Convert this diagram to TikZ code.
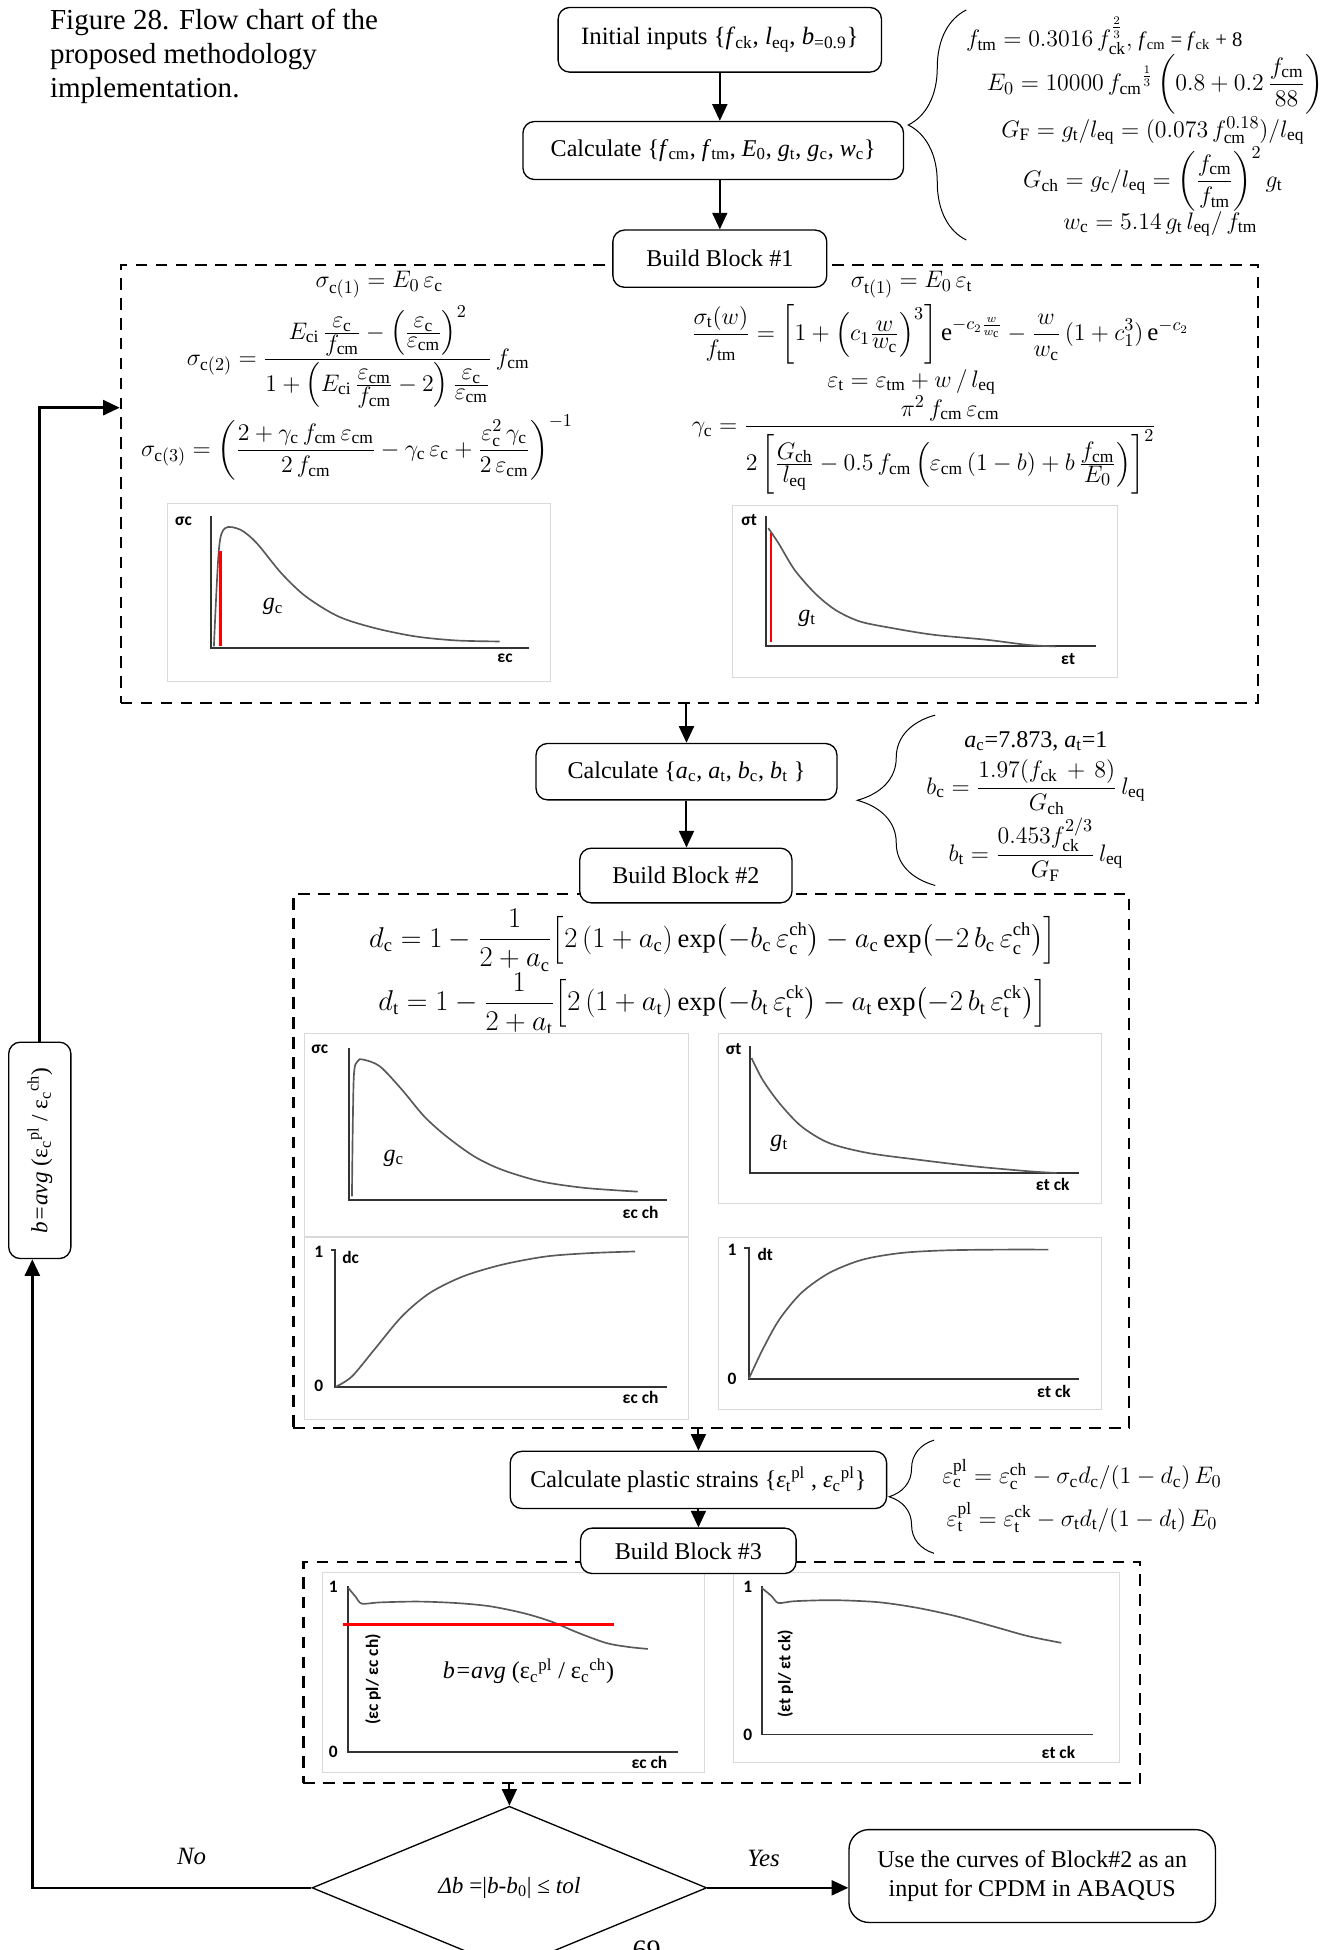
\documentclass[tikz,border=0pt]{standalone}
\usepackage{amsmath,amssymb}
\usepackage{fontspec}
\setmainfont{Liberation Serif}
\newfontfamily\chartfont{Carlito}
\usetikzlibrary{arrows.meta,positioning,shapes.geometric,decorations.pathreplacing,calc}

\newcommand{\tightfrac}[2]{\genfrac{}{}{}{1}{\textstyle #1}{\textstyle #2}}

\tikzset{
  flowbox/.style={draw, rounded corners=7pt, line width=0.8pt, fill=white, align=center,
    font=\fontsize{14.5}{17}\selectfont, inner sep=2pt},
  frameblock/.style={draw, line width=1.3pt, dash pattern=on 7pt off 5pt, inner sep=0pt},
  arr/.style={line width=1.2pt, -{Triangle[length=10pt,width=9pt]}},
  looparr/.style={line width=1.6pt, -{Triangle[length=10pt,width=9pt]}},
  eqn/.style={font=\fontsize{15}{18}\selectfont, inner sep=0pt},
  txt/.style={font=\fontsize{14.5}{17}\selectfont, inner sep=0pt},
  chartbox/.style={draw=gray!30, line width=0.6pt, fill=white},
  axis/.style={line width=1.2pt, black!80},
  curve/.style={line width=1pt, black!65, smooth},
  redmark/.style={line width=1.6pt, red},
  axlabel/.style={font=\chartfont\bfseries\fontsize{10.5}{12}\selectfont, inner sep=0pt},
  bracestyle/.style={decorate, decoration={brace, amplitude=#1}, line width=0.6pt}
}

\begin{document}
\begin{tikzpicture}[x=0.75pt, y=-0.75pt]
  \useasboundingbox (0,0) rectangle (1078,1568);

  \node[font=\fontsize{17.5}{20.5}\selectfont, align=left, anchor=north west, inner sep=0pt] (caption) at (40,7)
    {Figure 28. Flow chart of the\\proposed methodology\\implementation.};

  % dashed blocks
  \node[frameblock, minimum width=686pt, minimum height=264pt] (frameA) at (554.5,389) {};
  \node[frameblock, minimum width=504pt, minimum height=321.75pt] (frameB) at (572,933.5) {};
  \node[frameblock, minimum width=504.75pt, minimum height=133.5pt] (frameC) at (580.5,1345) {};

  \node[flowbox, minimum width=195pt, minimum height=39pt, font=\fontsize{15}{17}\selectfont] (inputs) at (578.8,32)
    {Initial inputs \{\textit{f}\textsubscript{ck}, \textit{l}\textsubscript{eq}, \textit{b}\textsubscript{=0.9}\}};
  \node[flowbox, minimum width=229.5pt, minimum height=35pt] (calcA) at (573.5,121)
    {Calculate \{\textit{f}\textsubscript{cm}, \textit{f}\textsubscript{tm}, \textit{E}\textsubscript{0}, \textit{g}\textsubscript{t}, \textit{g}\textsubscript{c}, \textit{w}\textsubscript{c}\}};
  \node[flowbox, minimum width=129pt, minimum height=34.5pt] (blockA) at (578.8,208) {Build Block \#1};

  \draw[bracestyle=35pt] (777,193) -- (777,8);
  \node[eqn] (ftm) at (888,29) {$f_{\mathrm{tm}} = 0.3016\,f_{\mathrm{ck}}^{\frac{2}{3}},$ {\fontsize{12.5}{14}\selectfont\textit{f}\textsubscript{cm} = \textit{f}\textsubscript{ck} + 8}};
  \node[eqn] (ezero) at (929,68) {$\displaystyle E_0 = 10000\,{f_{\mathrm{cm}}}^{\frac{1}{3}}\left(0.8+0.2\,\frac{f_{\mathrm{cm}}}{88}\right)$};
  \node[eqn] (gf) at (927,105) {$G_{\mathrm F} = g_{\mathrm t}/l_{\mathrm{eq}} = (0.073\,f_{\mathrm{cm}}^{0.18})/l_{\mathrm{eq}}$};
  \node[eqn] (gch) at (927,144) {$\displaystyle G_{\mathrm{ch}} = g_{\mathrm c}/l_{\mathrm{eq}} = \left(\frac{f_{\mathrm{cm}}}{f_{\mathrm{tm}}}\right)^{2} g_{\mathrm t}$};
  \node[eqn] (wc) at (933,180) {$w_{\mathrm c} = 5.14\,g_{\mathrm t}\,l_{\mathrm{eq}}/\,f_{\mathrm{tm}}$};

  % block 1
  \node[eqn] (sigcA) at (305,229) {$\sigma_{\mathrm{c}(1)} = E_0\,\varepsilon_{\mathrm c}$};
  \node[eqn] (sigcB) at (288,287) {$\displaystyle \sigma_{\mathrm{c}(2)} = \frac{E_{\mathrm{ci}}\,\tightfrac{\varepsilon_{\mathrm c}}{f_{\mathrm{cm}}}-\left(\tightfrac{\varepsilon_{\mathrm c}}{\varepsilon_{\mathrm{cm}}}\right)^{2}}{1+\left(E_{\mathrm{ci}}\,\tightfrac{\varepsilon_{\mathrm{cm}}}{f_{\mathrm{cm}}}-2\right)\tightfrac{\varepsilon_{\mathrm c}}{\varepsilon_{\mathrm{cm}}}}\,f_{\mathrm{cm}}$};
  \node[eqn] (sigcC) at (287,360) {$\displaystyle \sigma_{\mathrm{c}(3)} = \left(\frac{2+\gamma_{\mathrm c}\,f_{\mathrm{cm}}\,\varepsilon_{\mathrm{cm}}}{2\,f_{\mathrm{cm}}}-\gamma_{\mathrm c}\,\varepsilon_{\mathrm c}+\frac{\varepsilon_{\mathrm c}^{2}\,\gamma_{\mathrm c}}{2\,\varepsilon_{\mathrm{cm}}}\right)^{-1}$};
  \node[eqn] (sigtA) at (733,229) {$\sigma_{\mathrm{t}(1)} = E_0\,\varepsilon_{\mathrm t}$};
  \node[eqn] (sigtw) at (756,269) {$\displaystyle \frac{\sigma_{\mathrm t}(w)}{f_{\mathrm{tm}}} = \left[1+\left(c_1\tightfrac{w}{w_{\mathrm c}}\right)^{3}\right]\mathrm{e}^{-c_2\frac{w}{w_{\mathrm c}}} - \frac{w}{w_{\mathrm c}}\,(1+c_1^{3})\,\mathrm{e}^{-c_2}$};
  \node[eqn] (epst) at (733,307) {$\varepsilon_{\mathrm t} = \varepsilon_{\mathrm{tm}} + w\,/\,l_{\mathrm{eq}}$};
  \node[eqn] (gammac) at (743,358) {$\displaystyle \gamma_{\mathrm c} = \frac{\pi^{2}\,f_{\mathrm{cm}}\,\varepsilon_{\mathrm{cm}}}{2\left[\tightfrac{G_{\mathrm{ch}}}{l_{\mathrm{eq}}}-0.5\,f_{\mathrm{cm}}\left(\varepsilon_{\mathrm{cm}}\,(1-b)+b\,\tightfrac{f_{\mathrm{cm}}}{E_0}\right)\right]^{2}}$};

  \draw[chartbox] (135,405) rectangle (443,548);
  \draw[axis] (170,415) -- (170,521) -- (425,521);
  \draw[curve] plot coordinates {(172,519.8) (176,442) (181,424.7) (193.4,426) (206.5,436.8) (226.2,460.9) (245.9,479.6) (272.1,495.7) (301.6,505.1) (334.4,511.8) (367.2,515) (401.7,515.8)};
  \draw[redmark] (177.4,443.4) -- (177.4,519.8);
  \node[axlabel] (sigcAx) at (147.5,419.4) {σc};
  \node[axlabel] (epscAx) at (406,529) {εc};
  \node[txt] (gcA) at (219.5,487.7) {\textit{g}\textsubscript{c}};

  \draw[chartbox] (589.3,406.8) rectangle (898.2,545);
  \draw[axis] (616.2,415.3) -- (616.2,519.8) -- (881.2,519.8);
  \draw[curve] plot coordinates {(617.8,424.7) (626,436.8) (638.9,458.2) (655.3,477) (671.7,490.4) (691.4,499.7) (717.7,505.1) (750.5,510.4) (793.1,514.4) (825.9,518.5) (848.8,519.8)};
  \draw[redmark] (620,428.7) -- (620,516.6);
  \node[axlabel] (sigtAx) at (602.3,418.5) {σt};
  \node[axlabel] (epstAx) at (858.8,530) {εt};
  \node[txt] (gtA) at (649,497) {\textit{g}\textsubscript{t}};

  \node[flowbox, minimum width=181.5pt, minimum height=34pt] (calcB) at (552,620.5)
    {Calculate \{\textit{a}\textsubscript{c}, \textit{a}\textsubscript{t}, \textit{b}\textsubscript{c}, \textit{b}\textsubscript{t} \}};
  \node[flowbox, minimum width=128pt, minimum height=33pt] (blockB) at (551.5,704) {Build Block \#2};

  \draw[bracestyle=47pt] (752,712) -- (752,575);
  \node[txt] (acat) at (833,596) {\textit{a}\textsubscript{c}=7.873, \textit{a}\textsubscript{t}=1};
  \node[eqn] (bc) at (833,633) {$\displaystyle b_{\mathrm c} = \frac{1.97(f_{\mathrm{ck}}\,+\,8)}{G_{\mathrm{ch}}}\,l_{\mathrm{eq}}$};
  \node[eqn] (bt) at (833,683) {$\displaystyle b_{\mathrm t} = \frac{0.453 f_{\mathrm{ck}}^{2/3}}{G_{\mathrm F}}\,l_{\mathrm{eq}}$};

  % block 2
  \node[eqn, font=\fontsize{16}{18}\selectfont] (dc) at (573,756) {$\displaystyle d_{\mathrm c} = 1-\frac{1}{2+a_{\mathrm c}}\Bigl[2\,(1+a_{\mathrm c})\exp\bigl(-b_{\mathrm c}\,\varepsilon_{\mathrm c}^{\mathrm{ch}}\bigr)-a_{\mathrm c}\exp\bigl(-2\,b_{\mathrm c}\,\varepsilon_{\mathrm c}^{\mathrm{ch}}\bigr)\Bigr]$};
  \node[eqn, font=\fontsize{16}{18}\selectfont] (dt) at (573,807) {$\displaystyle d_{\mathrm t} = 1-\frac{1}{2+a_{\mathrm t}}\Bigl[2\,(1+a_{\mathrm t})\exp\bigl(-b_{\mathrm t}\,\varepsilon_{\mathrm t}^{\mathrm{ck}}\bigr)-a_{\mathrm t}\exp\bigl(-2\,b_{\mathrm t}\,\varepsilon_{\mathrm t}^{\mathrm{ck}}\bigr)\Bigr]$};

  \draw[chartbox] (245.2,831.2) rectangle (553.9,994.1);
  \draw[axis] (280.9,842.7) -- (280.9,965.2) -- (536,965.2);
  \draw[curve] plot coordinates {(283,962) (284.4,868) (287.5,853.4) (292,852) (305.4,857.4) (323.2,876.2) (341,897.6) (358.9,913.7) (381.2,929.8) (403.4,940.5) (434.6,949.9) (470.3,955.2) (512.8,958.2)};
  \node[axlabel] (sigcBx) at (257.2,844) {σc};
  \node[axlabel] (epscBx) at (515.1,975.3) {εc ch};
  \node[txt] (gcB) at (316.6,931.1) {\textit{g}\textsubscript{c}};

  \draw[chartbox] (577.5,831) rectangle (885.4,967.8);
  \draw[axis] (603.4,841.4) -- (603.4,943.2) -- (867.5,943.2);
  \draw[curve] plot coordinates {(604.3,850.8) (613.2,868.2) (626.6,886.9) (644.4,905.7) (666.7,919.1) (697.9,927.1) (738.1,932.5) (782.7,937.8) (827.3,941.8) (849.6,943.2)};
  \node[axlabel] (sigtBx) at (590,843.6) {σt};
  \node[axlabel] (epstBx) at (846.5,952.6) {εt ck};
  \node[txt] (gtB) at (626.6,919) {\textit{g}\textsubscript{t}};

  \draw[chartbox] (245.2,994.7) rectangle (553.9,1141.5);
  \draw[axis] (266,1005) -- (269.7,1005) -- (269.7,1115.3) -- (536,1115.3);
  \draw[curve] plot coordinates {(269.7,1115.3) (283,1106.8) (300.9,1085.3) (323.2,1058.5) (345.4,1039.8) (372.2,1026.4) (403.4,1017) (439.1,1010.3) (474.8,1007.6) (510.6,1006.3)};
  \node[axlabel] (oneC) at (256.3,1006.2) {1};
  \node[axlabel] (zeroC) at (256.3,1114.7) {0};
  \node[axlabel] (dcAx) at (282,1011.5) {dc};
  \node[axlabel] (epscCx) at (515.1,1124) {εc ch};

  \draw[chartbox] (577.5,994.7) rectangle (885.4,1133.4);
  \draw[axis] (598.5,1003.5) -- (602.1,1003.5) -- (602.1,1108.7) -- (867.5,1108.7);
  \draw[curve] plot coordinates {(602.1,1108.7) (613.2,1085.2) (626.6,1061.1) (644.4,1039.6) (666.7,1023.6) (693.5,1012.9) (724.7,1007.5) (760.4,1005.4) (805,1004.8) (842.9,1004.8)};
  \node[axlabel] (oneT) at (588.7,1004.9) {1};
  \node[axlabel] (zeroT) at (588.7,1108.8) {0};
  \node[axlabel] (dtAx) at (615.4,1008.9) {dt};
  \node[axlabel] (epstCx) at (847.4,1118.7) {εt ck};

  \node[flowbox, minimum width=227pt, minimum height=34.5pt] (calcC) at (561.6,1190)
    {Calculate plastic strains \{\textit{ε}\textsubscript{t}\textsuperscript{pl} , \textit{ε}\textsubscript{c}\textsuperscript{pl}\}};

  \draw[bracestyle=27pt] (751,1249) -- (751,1158);
  \node[eqn] (plc) at (870,1186) {$\varepsilon_{\mathrm c}^{\mathrm{pl}} = \varepsilon_{\mathrm c}^{\mathrm{ch}} - \sigma_{\mathrm c} d_{\mathrm c}/(1-d_{\mathrm c})\,E_0$};
  \node[eqn] (plt) at (870,1220) {$\varepsilon_{\mathrm t}^{\mathrm{pl}} = \varepsilon_{\mathrm t}^{\mathrm{ck}} - \sigma_{\mathrm t} d_{\mathrm t}/(1-d_{\mathrm t})\,E_0$};

  % block 3
  \draw[chartbox] (259,1264.8) rectangle (566.8,1425.5);
  \draw[axis] (280,1275.5) -- (280,1408.6) -- (545.4,1408.6);
  \draw[curve] plot coordinates {(280,1276.8) (286,1284) (291,1289.5) (305,1288.5) (336,1287.8) (367,1289) (394,1291.6) (420.5,1297) (442.8,1303.7) (465.1,1313) (487.4,1321.1) (505.3,1324.3) (520.9,1325.9)};
  \draw[redmark] (276,1306.3) -- (494.1,1306.3);
  \node[axlabel] (onePc) at (268,1276) {1};
  \node[axlabel] (zeroPc) at (268,1408.7) {0};
  \node[axlabel, rotate=90] (ratioC) at (300,1350.5) {(εc pl/ εc ch)};
  \node[axlabel] (epscDx) at (522.2,1417) {εc ch};
  \node[txt] (bavgC) at (425,1343.8) {\textit{b=avg} (ε\textsubscript{c}\textsuperscript{pl} / ε\textsubscript{c}\textsuperscript{ch})};

  \draw[chartbox] (590,1264.8) rectangle (900,1417.5);
  \draw[axis] (612.4,1275.5) -- (612.4,1394.7) -- (878.7,1394.7);
  \draw[curve] plot coordinates {(612.4,1276.8) (620.6,1283.5) (625.9,1288.9) (639.2,1287.5) (670.4,1286.7) (706.1,1288.3) (737.3,1292.8) (768.6,1299.5) (799.8,1308.1) (826.6,1315.6) (853.4,1321)};
  \node[axlabel] (onePt) at (601.2,1276) {1};
  \node[axlabel] (zeroPt) at (601.2,1394.7) {0};
  \node[axlabel, rotate=90] (ratioT) at (631.5,1346) {(εt pl/ εt ck)};
  \node[axlabel] (epstDx) at (851,1409.4) {εt ck};

  \node[flowbox, minimum width=130pt, minimum height=27.4pt] (blockC) at (553.5,1247) {Build Block \#3};

  % check and loop back
  \node[draw, shape=diamond, line width=0.8pt, aspect=2.4, inner sep=0pt, fill=white,
    minimum width=238pt, minimum height=98.4pt, font=\fontsize{14}{16}\selectfont] (check) at (409.6,1518)
    {\textit{Δb} =|\textit{b}-\textit{b}\textsubscript{0}| ≤ \textit{tol}};
  \node[flowbox, rounded corners=12pt, minimum width=221pt, minimum height=56pt] (result) at (830,1508.5)
    {Use the curves of Block\#2 as an\\input for CPDM in ABAQUS};
  \node[flowbox, rotate=90, minimum width=130.5pt, minimum height=37.5pt, font=\fontsize{14}{16}\selectfont] (bavg) at (32,925)
    {\textit{b=avg} (ε\textsubscript{c}\textsuperscript{pl} / ε\textsubscript{c}\textsuperscript{ch})};

  \draw[arr] (inputs.south) -- (inputs.south |- calcA.north);
  \draw[arr] (calcA.south -| blockA.north) -- (blockA.north);
  \draw[arr] (frameA.south -| calcB.north) -- (calcB.north);
  \draw[arr] (calcB.south) -- (calcB.south |- blockB.north);
  \draw[arr] (frameB.south -| calcC.north) -- (calcC.north);
  \draw[arr] (calcC.south) -- (calcC.south |- blockC.north);
  \draw[arr] (frameC.south -| check.north) -- (check.north);
  \draw[arr] (check.east) -- (check.east -| result.west);
  \draw[looparr] (check.west) -| ([xshift=-4.5pt]bavg.west);
  \draw[looparr] (bavg.east) |- ($(frameA.north west)!0.327!(frameA.south west)$);

  \node[txt, font=\fontsize{15}{17}\selectfont\itshape] (nolabel) at (154,1493) {No};
  \node[txt, font=\fontsize{15}{17}\selectfont\itshape] (yeslabel) at (614,1494) {Yes};
  \node[font=\fontsize{17}{20}\selectfont] (pagenum) at (520,1568) {69};
\end{tikzpicture}
\end{document}
